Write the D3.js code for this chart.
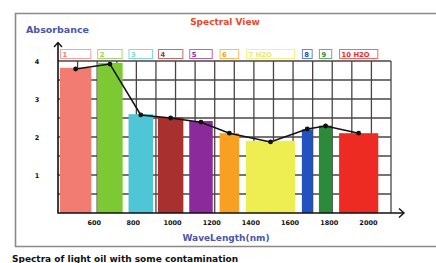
<!DOCTYPE html>
<html><head><meta charset="utf-8">
<script src="https://cdn.jsdelivr.net/npm/d3@7"></script>
<style>body{margin:0;background:#fff}svg{display:block}</style>
</head><body>
<script>
// ---- data ----
const bandLabels = ["1","2","3","4","5","6","7 H2O","8","9","10 H2O"];
const bandStart  = [410, 600, 760, 910, 1070, 1225, 1360, 1645, 1732, 1835];
const bandEnd    = [570, 730, 885, 1040, 1190, 1325, 1610, 1700, 1800, 2035];
const barValues  = [3.82, 3.95, 2.6, 2.52, 2.42, 2.1, 1.9, 2.2, 2.3, 2.1];
const lineValues = [3.79, 3.92, 2.58, 2.5, 2.39, 2.1, 1.87, 2.21, 2.29, 2.1];
const bandColors = ["#f27b72","#7dc934","#4fc6d6","#a8302e","#8b2b9b","#f7a021","#eeee52","#2252c0","#2b8b3b","#ee2b23"];
const textColors = ["#f27b72","#9fd060","#7fd6e2","#a8302e","#8b2b9b","#f7a021","#e6e67a","#2252c0","#2b8b3b","#ee2b23"];
const xTicks = [600, 800, 1000, 1200, 1400, 1600, 1800, 2000];
const yTicks = [1, 2, 3, 4];

const W = 436, H = 263;
const svg = d3.select("body").append("svg").attr("width", W).attr("height", H);
const x = d3.scaleLinear().domain([400, 2100]).range([58, 391]);
const y = d3.scaleLinear().domain([0, 4]).range([213, 61]);
const font = "'DejaVu Sans', Verdana, sans-serif";

// frame
svg.append("path").attr("d", "M440,13.5 H15.5 V246.5 H440")
  .attr("fill", "none").attr("stroke", "#8a8a8a").attr("stroke-width", 1.6);

// titles
svg.append("text").attr("x", 225).attr("y", 25).attr("text-anchor", "middle")
  .attr("font-family", font).attr("font-weight", "bold").attr("font-size", 9)
  .attr("fill", "#e8482a").text("Spectral View");
svg.append("text").attr("x", 26).attr("y", 32.5)
  .attr("font-family", font).attr("font-weight", "bold").attr("font-size", 9.5)
  .attr("fill", "#4a56a8").text("Absorbance");
svg.append("text").attr("x", 226).attr("y", 241).attr("text-anchor", "middle")
  .attr("font-family", font).attr("font-weight", "bold").attr("font-size", 9)
  .attr("fill", "#4a56a8").text("WaveLength(nm)");
svg.append("text").attr("x", 12).attr("y", 262)
  .attr("font-family", font).attr("font-weight", "bold").attr("font-size", 9)
  .attr("fill", "#111").text("Spectra of light oil with some contamination");

// grid
const g = svg.append("g");
g.selectAll("line.v").data(d3.range(500, 2101, 100)).join("line")
  .attr("x1", d => x(d)).attr("x2", d => x(d)).attr("y1", y(0)).attr("y2", y(4))
  .attr("stroke", "#4c4444").attr("stroke-width", 1.3);
g.selectAll("line.h").data(d3.range(0.5, 4.01, 0.5)).join("line")
  .attr("x1", x(400)).attr("x2", x(2100)).attr("y1", d => y(d)).attr("y2", d => y(d))
  .attr("stroke", "#4c4444").attr("stroke-width", 1.3);

// bars
const idx = d3.range(bandLabels.length);
svg.selectAll("rect.bar").data(idx).join("rect")
  .attr("x", i => x(bandStart[i])).attr("width", i => x(bandEnd[i]) - x(bandStart[i]))
  .attr("y", i => y(barValues[i])).attr("height", i => y(0) - y(barValues[i]))
  .attr("fill", i => bandColors[i]);

// legend boxes
svg.selectAll("rect.lg").data(idx).join("rect")
  .attr("x", i => x(bandStart[i]) + 0.5).attr("width", i => x(bandEnd[i]) - x(bandStart[i]) - 1)
  .attr("y", 49.5).attr("height", 9)
  .attr("fill", "#fff").attr("stroke", i => bandColors[i]).attr("stroke-width", 1).attr("stroke-opacity", 0.7);
svg.selectAll("text.lg").data(idx).join("text")
  .attr("x", i => x(bandStart[i]) + 2.5).attr("y", 57)
  .attr("font-family", font).attr("font-weight", "bold").attr("font-size", 6.8)
  .attr("fill", i => textColors[i]).text(i => bandLabels[i]);

// axes
svg.append("path").attr("d", `M${x(400)},43 V${y(0)} H403`)
  .attr("fill", "none").attr("stroke", "#111").attr("stroke-width", 1.6);
svg.append("path").attr("d", `M${x(400)-4},47 L${x(400)},42.5 L${x(400)+4},47`)
  .attr("fill", "none").attr("stroke", "#111").attr("stroke-width", 1.4);
svg.append("path").attr("d", `M399,${y(0)-4.5} L404,${y(0)} L399,${y(0)+4.5}`)
  .attr("fill", "none").attr("stroke", "#111").attr("stroke-width", 1.4);

// tick labels
svg.selectAll("text.xt").data(xTicks).join("text")
  .attr("x", d => x(d) - 3).attr("y", 224.5).attr("text-anchor", "middle")
  .attr("font-family", font).attr("font-weight", "bold").attr("font-size", 6.5)
  .attr("fill", "#111").text(d => d);
svg.selectAll("text.yt").data(yTicks).join("text")
  .attr("x", 37).attr("y", d => y(d) + 2.5).attr("text-anchor", "middle")
  .attr("font-family", font).attr("font-weight", "bold").attr("font-size", 6.5)
  .attr("fill", "#111").text(d => d);

// line
const cx = i => x((bandStart[i] + bandEnd[i]) / 2);
svg.append("path").datum(idx)
  .attr("d", d3.line().x(i => cx(i)).y(i => y(lineValues[i])))
  .attr("fill", "none").attr("stroke", "#111").attr("stroke-width", 1.5);
svg.selectAll("circle.pt").data(idx).join("circle")
  .attr("cx", i => cx(i)).attr("cy", i => y(lineValues[i])).attr("r", 2.4)
  .attr("fill", "#111");
</script>
</body></html>
